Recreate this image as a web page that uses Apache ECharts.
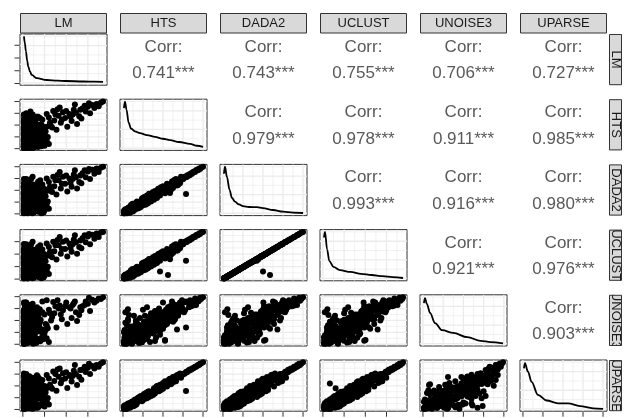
<!DOCTYPE html>
<html>
<head>
<meta charset="utf-8">
<script src="https://cdn.jsdelivr.net/npm/echarts@6/dist/echarts.min.js"></script>
<style>
  html, body { margin: 0; padding: 0; background: #fff; }
  #chart { width: 625px; height: 418px; }
</style>
</head>
<body>
<div id="chart"></div>
<script>
// Variable names (strip labels)
const varNames = ['LM', 'HTS', 'DADA2', 'UCLUST', 'UNOISE3', 'UPARSE'];

// Observations, one value per record for each pipeline (scaled units)
const LM = [
  0.05,0.06,0.05,0.08,0.10,0.05,0.12,0.07,0.20,0.15, 0.05,0.30,0.25,0.06,0.40,0.09,0.35,0.05,0.18,0.50,
  0.11,0.45,0.05,0.28,0.60,0.08,0.55,0.14,0.70,0.22, 0.05,0.32,0.80,0.07,0.48,0.10,0.90,0.05,0.38,0.16,
  1.00,0.06,0.62,0.09,1.10,0.24,0.05,0.42,0.12,1.20, 0.07,0.52,0.19,0.85,0.05,0.34,0.11,0.95,0.27,0.06,
  0.44,0.13,0.58,0.05,0.75,0.20,1.05,0.08,0.66,0.15, 0.05,0.36,0.10,0.50,0.06,0.22,0.78,0.09,0.30,0.05,
  0.16,0.05,0.10,0.08,0.40,0.55,0.12,0.35,0.60,0.45, 0.20,0.25,0.70,0.90,1.30,1.45,1.55,1.65,1.75,1.85,
  1.95,2.05,2.15,2.25,2.35,1.20,1.40,2.50,2.60,1.10, 2.75,2.90,3.00,3.10,3.20,3.30,3.40,3.50,3.60,3.70,
  2.70,2.85,3.05,1.70,2.40,0.05,0.65,0.05,0.33,0.82, 0.17,0.05,1.15,0.48,0.26,0.05,0.72,0.13,0.95,0.38,
  0.05,0.45,0.85,0.15,0.62,0.05,0.95,0.28,0.72,0.10, 0.40,0.05,0.88,0.20,0.55,0.08,1.05,0.33,0.68,0.12,
  0.50,0.05,0.80,0.25,0.98,0.14,0.60,0.05,0.42,0.75, 0.18,0.90,0.05,0.48,0.30,0.70,0.10,1.00,0.22,0.58,
  0.05,0.38,0.12,0.80,0.05,0.26,0.65,0.08,0.45,0.15, 0.05,0.22,0.05,0.35,0.10,0.50,0.05,0.18,0.65,0.08,
  0.05,0.30,0.12,0.05,0.42,0.20,0.05,0.75,0.15,0.55, 1.25,1.50,1.80,2.00,2.20,2.45,1.35,1.60,2.30,2.65,
  0.35,0.90,0.55,1.10,0.25,0.78,0.48,1.00,0.62,0.85, 0.05,0.05,0.05,0.05,0.05,0.10,0.10,0.10,0.10,0.10,
  0.20,0.20,0.20,0.20,0.30,0.30,0.30,0.30,0.40,0.40, 0.05,0.15,0.25,0.05,0.40,0.10,0.60,0.05,0.30,0.08,
  0.20,0.05,0.50,0.12,0.70,0.05,0.35,0.18,0.82,0.05
];
const HTS = [
  0.05,0.10,0.15,0.20,0.08,0.25,0.30,0.35,0.12,0.40, 0.45,0.18,0.50,0.55,0.22,0.60,0.32,0.65,0.70,0.10,
  0.75,0.42,0.80,0.85,0.28,0.90,0.60,0.95,0.15,1.00, 1.05,1.10,0.35,1.15,1.20,1.25,0.50,1.30,1.35,1.40,
  0.25,1.45,1.50,1.55,0.70,1.60,1.65,1.70,1.75,0.40, 1.80,1.85,1.90,0.90,1.95,2.00,2.05,1.10,2.10,2.15,
  0.05,0.20,0.80,0.38,1.30,0.62,1.45,2.20,1.60,2.25, 2.30,2.35,2.40,2.45,2.50,2.55,2.60,2.70,2.80,2.90,
  3.00,0.12,0.25,0.30,1.60,2.10,2.00,3.15,1.85,2.25, 2.35,2.10,2.70,2.45,1.90,2.40,1.60,2.80,2.20,3.10,
  2.60,1.85,2.95,2.35,3.30,2.65,3.20,2.10,2.75,2.95, 3.40,3.15,3.55,3.00,3.70,3.45,3.80,3.60,3.90,4.00,
  2.55,3.65,3.85,3.50,3.75,0.18,0.95,1.50,0.75,1.75, 1.20,0.60,1.00,0.15,2.45,1.85,2.00,0.48,0.55,1.00,
  0.30,0.08,0.20,0.50,0.40,0.12,0.35,0.05,0.48,0.25, 0.60,0.70,0.55,0.85,0.95,0.45,0.75,1.00,0.65,0.90,
  1.10,1.25,1.05,1.40,1.20,1.55,1.30,1.50,1.15,1.60, 1.70,1.90,2.10,1.80,2.30,2.00,2.40,1.75,2.20,2.35,
  2.50,2.65,2.75,2.55,2.85,2.45,2.70,2.60,2.90,2.40, 0.05,0.10,0.18,0.30,0.08,0.22,0.40,0.15,0.28,0.35,
  0.20,0.55,0.80,1.00,1.35,0.65,1.65,0.40,1.20,1.85, 2.20,2.90,2.45,3.20,2.70,3.05,1.80,3.35,2.90,3.30,
  1.60,1.30,2.20,1.85,1.95,0.80,2.60,0.60,1.45,2.05, 0.55,0.95,1.35,1.75,2.20,0.30,0.70,1.15,1.60,2.05,
  0.45,0.85,1.30,1.75,0.15,0.60,1.05,1.45,0.90,1.95, 0.65,1.05,0.35,1.45,0.75,1.85,0.25,1.20,1.65,0.50,
  0.95,2.00,0.10,1.30,0.55,0.85,2.15,0.40,1.50,0.20
];
const DADA2 = [
  0.05,0.08,0.14,0.22,0.10,0.24,0.33,0.31,0.15,0.42, 0.40,0.20,0.53,0.50,0.19,0.63,0.36,0.60,0.74,0.12,
  0.70,0.45,0.84,0.80,0.30,0.95,0.58,0.90,0.18,1.05, 1.00,1.15,0.38,1.10,1.26,1.20,0.47,1.35,1.30,1.45,
  0.28,1.40,1.55,1.50,0.75,1.66,1.60,1.75,1.70,0.43, 1.86,1.80,1.95,0.86,1.90,2.05,2.00,1.15,2.15,2.10,
  0.06,0.17,0.76,0.41,1.25,0.66,1.50,2.25,1.55,2.20, 2.35,2.30,2.45,2.40,2.55,2.50,2.65,2.75,2.75,2.95,
  2.95,0.10,0.22,0.27,1.58,2.05,2.02,1.69,2.00,2.35, 1.77,2.12,2.72,2.50,1.95,2.35,1.65,2.85,2.15,3.15,
  2.55,1.90,3.00,2.30,3.35,2.70,3.15,2.15,2.70,3.00, 3.45,3.10,3.60,2.95,3.75,3.40,3.85,3.55,3.92,4.00,
  2.60,3.70,3.80,3.55,3.70,0.21,1.00,1.47,0.78,1.72, 1.17,0.57,1.04,0.13,2.48,1.83,1.97,0.45,0.58,0.97,
  0.55,0.30,0.05,0.20,0.75,0.40,0.10,0.25,0.85,0.50, 0.35,1.05,0.80,0.55,1.30,0.75,0.45,1.35,0.95,0.60,
  1.45,0.90,1.40,1.05,1.55,1.20,1.70,1.85,0.80,1.95, 1.35,2.25,1.75,2.15,1.95,2.35,2.05,2.10,2.55,2.00,
  2.20,2.95,2.45,2.85,2.60,2.75,2.40,2.90,3.15,2.15, 0.15,0.05,0.30,0.18,0.22,0.35,0.28,0.08,0.42,0.50,
  0.25,0.60,0.75,1.10,1.30,0.70,1.70,0.45,1.25,1.80, 2.30,2.85,2.55,3.25,2.65,3.10,1.85,3.30,2.95,3.25,
  1.50,1.20,2.10,1.95,2.05,0.70,2.50,0.65,1.60,1.90, 0.45,0.85,1.40,1.65,2.30,0.40,0.65,1.20,1.65,2.00,
  0.50,0.90,1.25,1.85,0.20,0.55,1.15,1.40,1.00,1.90, 0.90,0.75,0.60,1.75,0.50,1.55,0.45,1.45,1.40,0.70,
  1.20,2.25,0.25,1.05,0.80,0.60,1.90,0.20,1.75,0.35
];
const UCLUST = [
  0.05,0.08,0.13,0.20,0.09,0.22,0.31,0.30,0.14,0.39, 0.38,0.18,0.50,0.47,0.18,0.58,0.34,0.57,0.70,0.11,
  0.66,0.43,0.80,0.76,0.28,0.90,0.55,0.85,0.17,0.99, 0.95,1.09,0.36,1.05,1.20,1.14,0.45,1.28,1.23,1.38,
  0.26,1.33,1.47,1.42,0.71,1.58,1.52,1.66,1.62,0.41, 1.77,1.71,1.85,0.82,1.81,1.95,1.90,1.09,2.04,2.00,
  0.06,0.16,0.72,0.39,1.19,0.63,1.43,2.14,1.47,2.09, 2.24,2.19,2.33,2.28,2.43,2.38,2.52,2.62,2.61,2.81,
  2.80,0.09,0.21,0.26,1.50,1.95,1.92,1.48,0.60,0.33, 1.60,2.01,2.58,2.37,1.85,2.23,1.57,2.71,2.04,2.99,
  2.42,1.81,2.85,2.19,3.18,2.57,2.99,2.04,2.57,2.85, 3.28,2.95,3.42,2.80,3.56,3.23,3.66,3.37,3.74,3.78,
  2.47,3.52,3.61,3.37,3.52,0.20,0.95,1.40,0.74,1.63, 1.11,0.54,0.99,0.12,2.36,1.74,1.87,0.43,0.55,0.92,
  0.50,0.28,0.06,0.19,0.71,0.37,0.10,0.24,0.80,0.47, 0.33,0.99,0.76,0.52,1.24,0.71,0.43,1.28,0.90,0.57,
  1.38,0.86,1.33,1.00,1.47,1.14,1.62,1.76,0.76,1.85, 1.28,2.14,1.66,2.04,1.85,2.23,1.95,2.00,2.42,1.90,
  2.09,2.80,2.33,2.71,2.47,2.61,2.28,2.76,2.99,2.04, 0.14,0.05,0.29,0.17,0.21,0.33,0.27,0.08,0.40,0.47,
  0.24,0.57,0.71,1.05,1.24,0.67,1.62,0.43,1.19,1.71, 2.19,2.71,2.42,3.09,2.52,2.95,1.76,3.14,2.80,3.09,
  1.43,1.14,2.00,1.85,1.95,0.67,2.38,0.62,1.52,1.81, 0.43,0.81,1.33,1.57,2.19,0.38,0.62,1.14,1.57,1.90,
  0.47,0.86,1.19,1.76,0.19,0.52,1.09,1.33,0.95,1.81, 0.86,0.71,0.57,1.66,0.48,1.47,0.43,1.38,1.33,0.67,
  1.14,2.14,0.24,1.00,0.76,0.57,1.81,0.19,1.66,0.33
];
const UNOISE3 = [
  0.05,0.12,0.30,0.10,0.45,0.20,0.55,0.25,0.08,0.70, 0.15,0.35,0.60,0.90,0.28,0.40,0.85,1.10,0.50,0.20,
  1.30,0.30,0.65,1.00,0.15,1.50,0.45,0.75,0.40,1.20, 0.60,1.70,0.25,1.40,0.90,2.00,0.70,1.10,1.80,1.25,
  0.55,2.30,1.30,0.95,0.50,2.10,1.60,1.45,2.50,0.20, 1.90,1.55,2.40,1.05,2.20,1.75,2.70,0.80,2.05,2.90,
  0.10,0.60,0.35,0.95,1.65,0.30,1.20,2.30,2.20,3.10, 2.50,3.20,2.10,2.80,3.40,2.35,2.95,2.60,3.30,2.75,
  3.50,2.70,2.95,2.45,0.27,0.30,3.50,1.40,1.50,1.90, 2.00,0.35,1.24,3.60,2.00,2.60,1.40,3.00,2.50,2.85,
  3.20,1.70,3.10,2.20,3.45,2.90,3.55,1.95,2.45,3.70, 3.20,3.60,3.40,2.80,3.75,3.50,3.65,3.85,3.80,3.96,
  2.85,3.30,3.90,3.25,3.60,0.25,1.15,1.85,0.55,2.05, 0.85,0.75,1.35,0.05,2.15,1.30,2.40,1.40,0.90,1.60,
  0.90,0.60,0.35,1.40,0.10,1.80,0.75,1.00,0.45,2.10, 1.60,0.30,1.25,2.20,0.60,0.05,1.70,0.50,1.95,1.00,
  2.40,0.70,1.90,2.60,0.45,1.50,2.30,0.90,1.30,2.80, 1.20,2.70,1.60,3.00,2.20,1.30,3.20,2.50,1.70,2.90,
  1.90,3.30,2.40,2.00,3.50,2.60,3.10,2.20,3.40,2.85, 0.25,0.60,0.05,0.85,1.20,0.40,0.65,0.20,1.05,0.30,
  1.60,2.40,0.10,2.90,0.20,2.00,0.55,1.50,3.10,0.80, 2.60,3.20,2.10,3.50,3.00,2.70,2.30,3.70,3.30,3.10,
  2.10,1.00,2.60,1.60,1.40,1.30,2.10,0.95,2.50,2.70, 0.55,1.35,1.70,2.05,2.60,0.80,0.40,1.90,1.10,2.45,
  1.15,0.60,2.20,1.50,0.70,1.20,0.85,1.95,1.55,2.30, 1.75,0.35,1.25,2.35,0.80,1.10,1.95,0.65,2.65,0.20,
  0.15,1.45,0.95,2.05,0.40,1.55,2.75,1.05,1.20,0.45
];
const UPARSE = [
  0.05,0.09,0.16,0.21,0.10,0.26,0.28,0.36,0.13,0.41, 0.44,0.19,0.48,0.56,0.20,0.62,0.30,0.66,0.68,0.11,
  0.77,0.40,0.79,0.87,0.27,0.88,0.61,0.97,0.16,0.98, 1.07,1.08,0.34,1.18,1.17,1.27,0.52,1.29,1.37,1.38,
  0.26,1.47,1.48,1.57,0.68,1.58,1.67,1.68,1.77,0.42, 1.78,1.87,1.88,0.92,1.97,1.98,2.07,1.08,2.08,2.17,
  0.06,0.22,0.82,0.37,1.32,0.60,1.44,2.18,1.62,2.27, 2.28,2.37,2.38,2.47,2.48,2.57,2.58,2.68,2.82,2.88,
  3.02,0.15,0.30,0.33,1.62,2.08,2.02,1.57,1.80,2.20, 2.30,2.15,2.75,2.50,1.88,2.42,1.58,2.78,2.22,3.08,
  2.62,1.83,2.93,2.37,3.28,2.63,3.22,2.08,2.77,2.93, 3.38,3.17,3.53,3.02,3.68,3.47,3.78,3.62,3.90,4.00,
  2.53,3.63,3.87,3.48,3.77,0.17,0.93,1.52,0.73,1.77, 1.22,0.63,0.98,0.14,2.43,1.86,2.02,0.50,0.53,1.02,
  0.45,0.25,0.40,0.70,0.20,0.05,0.55,0.30,0.28,0.50, 0.85,0.50,0.35,1.10,0.75,0.65,0.95,0.80,0.42,1.15,
  0.90,1.50,1.30,1.15,1.45,1.80,1.05,1.25,1.40,1.35, 2.00,1.65,2.40,1.55,2.55,2.25,2.15,2.00,1.95,2.60,
  2.75,2.40,2.95,2.35,3.05,2.25,2.90,2.80,2.70,2.60, 0.12,0.20,0.08,0.40,0.05,0.30,0.52,0.25,0.15,0.45,
  0.18,0.50,0.85,0.95,1.40,0.60,1.60,0.35,1.15,1.90, 2.10,3.00,2.50,3.15,2.80,3.00,1.75,3.40,2.85,3.35,
  1.70,1.35,2.30,1.80,1.90,0.90,2.65,0.55,1.35,2.15, 0.60,1.00,1.30,1.70,2.25,0.35,0.75,1.10,1.65,2.10,
  0.40,0.90,1.35,1.70,0.12,0.65,1.00,1.50,0.85,2.00, 0.40,1.30,0.15,1.20,1.00,2.10,0.45,0.95,1.90,0.30,
  0.70,1.75,0.35,1.55,0.30,1.05,2.35,0.60,1.25,0.05
];

// Axis breaks for each variable
const ticksLM = [0, 1, 2, 3];
const ticksHTS = [0, 1, 2, 3, 4];
const ticksDADA2 = [0, 1, 2, 3, 4];
const ticksUCLUST = [0, 1, 2, 3];
const ticksUNOISE3 = [0, 1, 2, 3, 4];
const ticksUPARSE = [0, 1, 2, 3, 4];
// Breaks of the (relative) density axis on the diagonal
const ticksDensity = [0, 0.4, 0.8];

// Kernel density estimates of each variable: [value, relative density]
const densLM = [[0.05,1.0],[0.09,0.86],[0.14,0.68],[0.2,0.47],[0.25,0.35],[0.33,0.24],[0.41,0.17],[0.64,0.1],[1.1,0.062],[1.6,0.048],[2.0,0.04],[2.8,0.03],[3.3,0.025],[3.7,0.02]];
const densHTS = [[0.05,0.86],[0.1,1.0],[0.18,0.82],[0.28,0.55],[0.4,0.42],[0.6,0.36],[0.85,0.32],[1.2,0.28],[1.6,0.24],[2.0,0.2],[2.35,0.17],[2.8,0.13],[3.35,0.09],[3.7,0.05],[4.0,0.025]];
const densDADA2 = [[0.05,0.85],[0.1,1.0],[0.2,0.78],[0.33,0.5],[0.45,0.33],[0.6,0.25],[0.8,0.19],[1.0,0.155],[1.3,0.135],[1.7,0.13],[2.0,0.11],[2.5,0.07],[3.0,0.035],[3.5,0.015],[4.0,0.006]];
const densUCLUST = [[0.05,0.88],[0.1,1.0],[0.2,0.62],[0.3,0.38],[0.5,0.25],[0.8,0.18],[1.3,0.14],[1.8,0.1],[2.3,0.075],[2.8,0.05],[3.3,0.03],[3.78,0.01]];
const densUNOISE3 = [[0.05,0.87],[0.1,0.98],[0.2,0.85],[0.35,0.66],[0.6,0.44],[0.95,0.29],[1.5,0.23],[2.2,0.14],[2.85,0.06],[3.35,0.035],[3.96,0.005]];
const densUPARSE = [[0.05,0.87],[0.1,0.98],[0.25,0.8],[0.43,0.58],[0.75,0.3],[1.18,0.18],[1.75,0.12],[2.25,0.12],[2.85,0.06],[3.5,0.012],[4.0,0.0]];

// Pearson correlations for the upper triangle, row by row
const corrLM = ['0.741', '0.743', '0.755', '0.706', '0.727'];
const corrHTS = ['0.979', '0.978', '0.911', '0.985'];
const corrDADA2 = ['0.993', '0.916', '0.980'];
const corrUCLUST = ['0.921', '0.976'];
const corrUNOISE3 = ['0.903'];
const signifMark = '***';

// ---- assembly ----
const vars = [LM, HTS, DADA2, UCLUST, UNOISE3, UPARSE];
const varTicks = [ticksLM, ticksHTS, ticksDADA2, ticksUCLUST, ticksUNOISE3, ticksUPARSE];
const densities = [densLM, densHTS, densDADA2, densUCLUST, densUNOISE3, densUPARSE];
const corrRows = [corrLM, corrHTS, corrDADA2, corrUCLUST, corrUNOISE3];

const N = varNames.length;
const PANEL_LEFT = 20, PANEL_STEP_X = 100, PANEL_W = 87;
const PANEL_TOP = 34, PANEL_STEP_Y = 65.2, PANEL_H = 51.2;
const STRIP_TOP = 13, STRIP_H = 20.5;
const RSTRIP_X = 609, RSTRIP_W = 13;
const TICK_LEN = 5;
const FONT = '"Liberation Sans", Arial, Helvetica, sans-serif';
const GRID_COLOR = '#EBEBEB';
const DENS_LIM = [-0.05, 1.05];

function expandRange(a) {
  const mn = Math.min(...a), mx = Math.max(...a), pad = (mx - mn) * 0.05;
  return [mn - pad, mx + pad];
}
const lims = vars.map(expandRange);

function minorBreaks(major) {
  const step = major[1] - major[0];
  const out = [];
  for (let i = 0; i <= major.length; i++) out.push(major[0] - step / 2 + i * step);
  return out;
}
const within = (l) => (v) => v >= l[0] && v <= l[1];

function makeGuides(r, c) {
  const xl = lims[c];
  const diag = r === c;
  const yl = diag ? DENS_LIM : lims[r];
  const yBreaks = diag ? ticksDensity : varTicks[r];
  const xMaj = varTicks[c].filter(within(xl));
  const xMin = minorBreaks(varTicks[c]).filter(within(xl));
  const yMaj = yBreaks.filter(within(yl));
  const yMin = minorBreaks(yBreaks).filter(within(yl));
  // left-edge ticks follow the row variable; on the diagonal map it onto the density axis
  let leftTicks = [];
  if (c === 0) {
    const rl = lims[r];
    leftTicks = varTicks[r].filter(within(rl)).map(v =>
      diag ? yl[0] + (v - rl[0]) / (rl[1] - rl[0]) * (yl[1] - yl[0]) : v);
  }
  return function (params, api) {
    const children = [];
    const seg = (p, q, stroke, w) => children.push({
      type: 'line',
      shape: { x1: p[0], y1: p[1], x2: q[0], y2: q[1] },
      style: { stroke: stroke, lineWidth: w }
    });
    xMin.forEach(v => seg(api.coord([v, yl[0]]), api.coord([v, yl[1]]), GRID_COLOR, 0.7));
    yMin.forEach(v => seg(api.coord([xl[0], v]), api.coord([xl[1], v]), GRID_COLOR, 0.7));
    xMaj.forEach(v => seg(api.coord([v, yl[0]]), api.coord([v, yl[1]]), GRID_COLOR, 1.3));
    yMaj.forEach(v => seg(api.coord([xl[0], v]), api.coord([xl[1], v]), GRID_COLOR, 1.3));
    if (r === N - 1) {
      xMaj.forEach(v => {
        const p = api.coord([v, yl[0]]);
        seg([p[0], p[1] + 0.5], [p[0], p[1] + 0.5 + TICK_LEN], '#333', 1);
      });
    }
    leftTicks.forEach(v => {
      const p = api.coord([xl[0], v]);
      seg([p[0] - 0.5, p[1]], [p[0] - 0.5 - TICK_LEN, p[1]], '#333', 1);
    });
    return { type: 'group', children: children };
  };
}

const grids = [], xAxes = [], yAxes = [], series = [], graphics = [];
let k = 0;
for (let r = 0; r < N; r++) {
  for (let c = 0; c < N; c++) {
    const left = PANEL_LEFT + c * PANEL_STEP_X;
    const top = PANEL_TOP + r * PANEL_STEP_Y;
    if (c > r) {
      const cx = left + PANEL_W / 2, cy = top + PANEL_H / 2;
      graphics.push({
        type: 'text', x: cx, y: cy - 12.3, silent: true,
        style: { text: 'Corr:', fontSize: 17, fontFamily: FONT, fill: '#595959', align: 'center', verticalAlign: 'middle' }
      });
      graphics.push({
        type: 'text', x: cx, y: cy + 14.2, silent: true,
        style: { text: corrRows[r][c - r - 1] + signifMark, fontSize: 17, fontFamily: FONT, fill: '#595959', align: 'center', verticalAlign: 'middle' }
      });
      continue;
    }
    grids.push({
      left: left, top: top, width: PANEL_W, height: PANEL_H,
      show: true, backgroundColor: '#fff', borderColor: '#333', borderWidth: 1
    });
    const diag = r === c;
    xAxes.push({ type: 'value', gridIndex: k, min: lims[c][0], max: lims[c][1], show: false });
    yAxes.push({ type: 'value', gridIndex: k, min: diag ? DENS_LIM[0] : lims[r][0], max: diag ? DENS_LIM[1] : lims[r][1], show: false });
    series.push({
      type: 'custom', xAxisIndex: k, yAxisIndex: k, silent: true, z: 1,
      data: [[0, 0]], renderItem: makeGuides(r, c)
    });
    if (diag) {
      series.push({
        type: 'line', xAxisIndex: k, yAxisIndex: k, silent: true, z: 3,
        data: densities[c], smooth: 0.35, smoothMonotone: 'x', showSymbol: false,
        lineStyle: { color: '#000', width: 1.8 }
      });
    } else {
      const xs = vars[c], ys = vars[r];
      series.push({
        type: 'scatter', xAxisIndex: k, yAxisIndex: k, silent: true, z: 3,
        data: xs.map((v, i) => [v, ys[i]]), symbolSize: 6,
        itemStyle: { color: '#000', opacity: 1 }
      });
    }
    k++;
  }
}

// Column strips along the top
varNames.forEach((name, c) => {
  const x = PANEL_LEFT + c * PANEL_STEP_X;
  graphics.push({
    type: 'rect', silent: true,
    shape: { x: x + 0.5, y: STRIP_TOP + 0.5, width: PANEL_W - 1, height: STRIP_H - 1 },
    style: { fill: '#D9D9D9', stroke: '#333', lineWidth: 1 }
  });
  graphics.push({
    type: 'text', x: x + PANEL_W / 2, y: STRIP_TOP + STRIP_H / 2 + 0.5, silent: true,
    style: { text: name, fontSize: 13, fontFamily: FONT, fill: '#1A1A1A', align: 'center', verticalAlign: 'middle' }
  });
});

// Row strips on the right: fill, rotated label, then white masks so long labels
// are cut at the strip ends, then the outline on top
varNames.forEach((name, r) => {
  const y = PANEL_TOP + r * PANEL_STEP_Y;
  graphics.push({
    type: 'rect', silent: true,
    shape: { x: RSTRIP_X, y: y, width: RSTRIP_W, height: PANEL_H },
    style: { fill: '#D9D9D9' }
  });
  graphics.push({
    type: 'text', x: RSTRIP_X + RSTRIP_W / 2 + 0.5, y: y + PANEL_H / 2, rotation: -Math.PI / 2, silent: true,
    style: { text: name, fontSize: 13, fontFamily: FONT, fill: '#1A1A1A', align: 'center', verticalAlign: 'middle' }
  });
});
for (let r = 0; r <= N; r++) {
  const y0 = r === 0 ? 0 : PANEL_TOP + (r - 1) * PANEL_STEP_Y + PANEL_H;
  const y1 = r === N ? 418 : PANEL_TOP + r * PANEL_STEP_Y;
  graphics.push({
    type: 'rect', silent: true,
    shape: { x: RSTRIP_X - 1, y: y0, width: 625 - RSTRIP_X + 1, height: y1 - y0 },
    style: { fill: '#fff' }
  });
}
varNames.forEach((name, r) => {
  const y = PANEL_TOP + r * PANEL_STEP_Y;
  graphics.push({
    type: 'rect', silent: true,
    shape: { x: RSTRIP_X + 0.5, y: y + 0.5, width: RSTRIP_W - 1, height: PANEL_H - 1 },
    style: { fill: 'none', stroke: '#333', lineWidth: 1 }
  });
});

const chart = echarts.init(document.getElementById('chart'), null, { renderer: 'canvas' });
chart.setOption({
  animation: false,
  backgroundColor: '#fff',
  grid: grids,
  xAxis: xAxes,
  yAxis: yAxes,
  series: series,
  graphic: { elements: graphics }
});
</script>
</body>
</html>
